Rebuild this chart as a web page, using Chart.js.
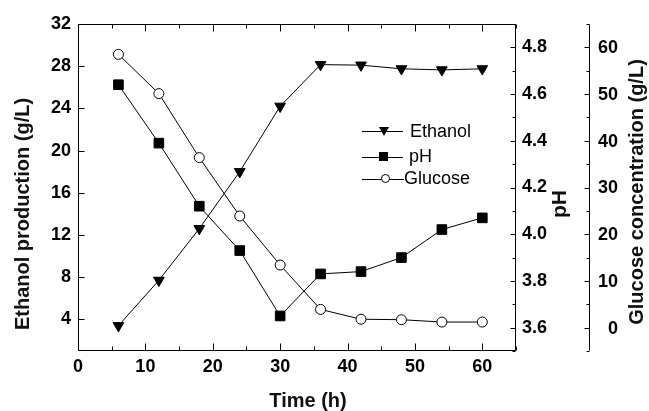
<!DOCTYPE html>
<html>
<head>
<meta charset="utf-8">
<script src="https://cdn.jsdelivr.net/npm/chart.js@4/dist/chart.umd.min.js"></script>
<style>
html,body{margin:0;padding:0;background:#fff;}
#wrap{width:649px;height:411px;}
</style>
</head>
<body>
<div id="wrap"><canvas id="c" width="649" height="411"></canvas></div>
<script>
// ---- data ----
const timeH = [6, 12, 18, 24, 30, 36, 42, 48, 54, 60];
const ethanol = [3.4, 7.7, 12.6, 18.0, 24.2, 28.15, 28.1, 27.75, 27.65, 27.75];
const pHvals = [4.64, 4.39, 4.12, 3.93, 3.65, 3.83, 3.84, 3.90, 4.02, 4.07];
const glucose = [58.5, 50.1, 36.4, 23.9, 13.4, 3.9, 1.8, 1.7, 1.2, 1.2];
const xTicks = [0, 10, 20, 30, 40, 50, 60];
const ethTicks = [4, 8, 12, 16, 20, 24, 28, 32];
const pHTicks = [3.6, 3.8, 4.0, 4.2, 4.4, 4.6, 4.8];
const gluTicks = [0, 10, 20, 30, 40, 50, 60];
const seriesNames = ['Ethanol', 'pH', 'Glucose'];
const titles = {x: 'Time (h)', y: 'Ethanol production (g/L)', ph: 'pH', glu: 'Glucose concentration (g/L)'};

const FONT = '"Liberation Sans", Arial, Helvetica, sans-serif';
const pts = (ys) => timeH.map((t, i) => ({x: t, y: ys[i]}));
const near = (v, arr) => arr.some(a => Math.abs(a - v) < 1e-6);

const tickFont = {family: FONT, size: 18, weight: 'bold'};

const framePlugin = {
  id: 'frame',
  beforeDatasetsDraw(chart) {
    const {ctx, chartArea: a, scales} = chart;
    const sx = scales.x, sy = scales.y, sp = scales.yPH, sg = scales.yG;
    ctx.save();
    ctx.strokeStyle = '#000';
    ctx.lineWidth = 1;
    const L = Math.round(a.left) + 0.5, R = Math.round(a.right) - 0.5;
    const T = Math.round(a.top) + 0.5, B = Math.round(a.bottom) - 0.5;
    ctx.beginPath();
    ctx.rect(L, T, R - L, B - T);
    // x ticks bottom and top
    for (let v = 0; v <= 65; v += 5) {
      const px = Math.round(sx.getPixelForValue(v)) + 0.5;
      const len = (v % 10 === 0) ? 7 : 4;
      ctx.moveTo(px, B); ctx.lineTo(px, B - len);
      ctx.moveTo(px, T); ctx.lineTo(px, T + len);
    }
    // left ticks
    ethTicks.forEach(v => {
      const py = Math.round(sy.getPixelForValue(v)) + 0.5;
      ctx.moveTo(L, py); ctx.lineTo(L + 6, py);
    });
    // pH ticks (right side of frame)
    for (let k = 35; k <= 49; k++) {
      const v = k / 10;
      const py = Math.round(sp.getPixelForValue(v)) + 0.5;
      const len = (k % 2 === 0) ? 5 : 3;
      ctx.moveTo(R, py); ctx.lineTo(R - len, py);
    }
    // glucose axis
    const G = Math.round(sg.left) + 0.5;
    ctx.moveTo(G, T); ctx.lineTo(G, B);
    for (let v = -5; v <= 65; v += 5) {
      const py = Math.round(sg.getPixelForValue(v)) + 0.5;
      const len = (v % 10 === 0) ? 5 : 3;
      ctx.moveTo(G, py); ctx.lineTo(G - len, py);
    }
    ctx.stroke();
    // glucose tick labels, right aligned
    ctx.fillStyle = '#000';
    ctx.font = 'bold 18px ' + FONT;
    ctx.textAlign = 'right';
    ctx.textBaseline = 'middle';
    gluTicks.forEach(v => {
      ctx.fillText(String(v), sg.left + 29, sg.getPixelForValue(v) + 1);
    });
    ctx.restore();
  },
  afterDraw(chart) {
    const {ctx} = chart;
    ctx.save();
    ctx.fillStyle = '#111';
    // axis titles
    ctx.font = 'bold 20px ' + FONT;
    ctx.textAlign = 'center';
    ctx.textBaseline = 'alphabetic';
    ctx.fillText(titles.x, 308, 407);
    const vtext = (txt, x, y, font) => {
      ctx.save();
      ctx.font = font;
      ctx.translate(x, y);
      ctx.rotate(-Math.PI / 2);
      ctx.fillText(txt, 0, 0);
      ctx.restore();
    };
    vtext(titles.y, 29, 214, 'bold 20px ' + FONT);
    vtext(titles.ph, 566, 204, 'bold 21px ' + FONT);
    vtext(titles.glu, 643, 192, 'bold 20px ' + FONT);

    // legend
    ctx.strokeStyle = '#000';
    ctx.lineWidth = 1;
    ctx.font = '18px ' + FONT;
    ctx.textAlign = 'left';
    ctx.textBaseline = 'middle';
    const rows = [
      {y: 131, x0: 362, x1: 403, mx: 384, tx: 410, kind: 'tri'},
      {y: 156.5, x0: 362, x1: 403, mx: 383.5, tx: 409, kind: 'sq'},
      {y: 178.5, x0: 362, x1: 404, mx: 385.5, tx: 404, kind: 'circ'}
    ];
    rows.forEach((r, i) => {
      ctx.beginPath();
      ctx.moveTo(r.x0, Math.round(r.y) + 0.5);
      ctx.lineTo(r.x1, Math.round(r.y) + 0.5);
      ctx.stroke();
      ctx.beginPath();
      if (r.kind === 'tri') {
        ctx.moveTo(r.mx - 5, r.y - 4);
        ctx.lineTo(r.mx + 5, r.y - 4);
        ctx.lineTo(r.mx, r.y + 5);
        ctx.closePath();
        ctx.fillStyle = '#000'; ctx.fill();
      } else if (r.kind === 'sq') {
        ctx.fillStyle = '#000';
        ctx.fillRect(r.mx - 4.5, r.y - 4.5, 9, 9);
      } else {
        ctx.arc(r.mx, r.y, 4, 0, Math.PI * 2);
        ctx.fillStyle = '#fff'; ctx.fill(); ctx.stroke();
      }
      ctx.fillStyle = '#000';
      ctx.fillText(seriesNames[i], r.tx, r.y + 1);
    });
    ctx.restore();
  }
};

const common = {borderColor: '#000', borderWidth: 1, pointBorderColor: '#000', pointBorderWidth: 1, showLine: true, tension: 0, fill: false};

new Chart(document.getElementById('c'), {
  type: 'scatter',
  data: {
    datasets: [
      Object.assign({}, common, {label: seriesNames[0], data: pts(ethanol), yAxisID: 'y', pointStyle: 'triangle', rotation: 180, pointRadius: 6.2, pointHoverRadius: 6.2, pointBackgroundColor: '#000'}),
      Object.assign({}, common, {label: seriesNames[1], data: pts(pHvals), yAxisID: 'yPH', pointStyle: 'rect', pointRadius: 6.8, pointHoverRadius: 6.8, pointBackgroundColor: '#000'}),
      Object.assign({}, common, {label: seriesNames[2], data: pts(glucose), yAxisID: 'yG', pointStyle: 'circle', pointRadius: 5, pointHoverRadius: 5, pointBackgroundColor: '#fff'})
    ]
  },
  options: {
    responsive: false,
    animation: false,
    events: [],
    layout: {padding: {top: 24, left: 0, right: 0, bottom: 0}},
    plugins: {legend: {display: false}, tooltip: {enabled: false}, title: {display: false}},
    scales: {
      x: {
        type: 'linear', position: 'bottom', min: 0, max: 65,
        grid: {display: false, drawTicks: false}, border: {display: false},
        ticks: {stepSize: 5, autoSkip: false, color: '#000', font: tickFont, padding: 5, maxRotation: 0,
          callback: v => near(v, xTicks) ? String(v) : ''},
        afterFit: s => { s.height = 60; }
      },
      y: {
        type: 'linear', position: 'left', min: 1, max: 32,
        grid: {display: false, drawTicks: false}, border: {display: false},
        ticks: {stepSize: 4, autoSkip: false, color: '#000', font: tickFont, padding: 7,
          callback: v => near(v, ethTicks) ? String(v) : ''},
        afterFit: s => { s.width = 78; }
      },
      yPH: {
        type: 'linear', position: 'right', min: 3.5, max: 4.9,
        grid: {display: false, drawTicks: false}, border: {display: false},
        ticks: {stepSize: 0.1, autoSkip: false, color: '#000', font: tickFont, padding: 6,
          callback: v => near(v, pHTicks) ? v.toFixed(1) : ''},
        afterFit: s => { s.width = 73; }
      },
      yG: {
        type: 'linear', position: 'right', min: -5, max: 65,
        grid: {display: false, drawTicks: false}, border: {display: false},
        ticks: {display: false, stepSize: 5},
        afterFit: s => { s.width = 60; }
      }
    }
  },
  plugins: [framePlugin]
});
</script>
</body>
</html>
